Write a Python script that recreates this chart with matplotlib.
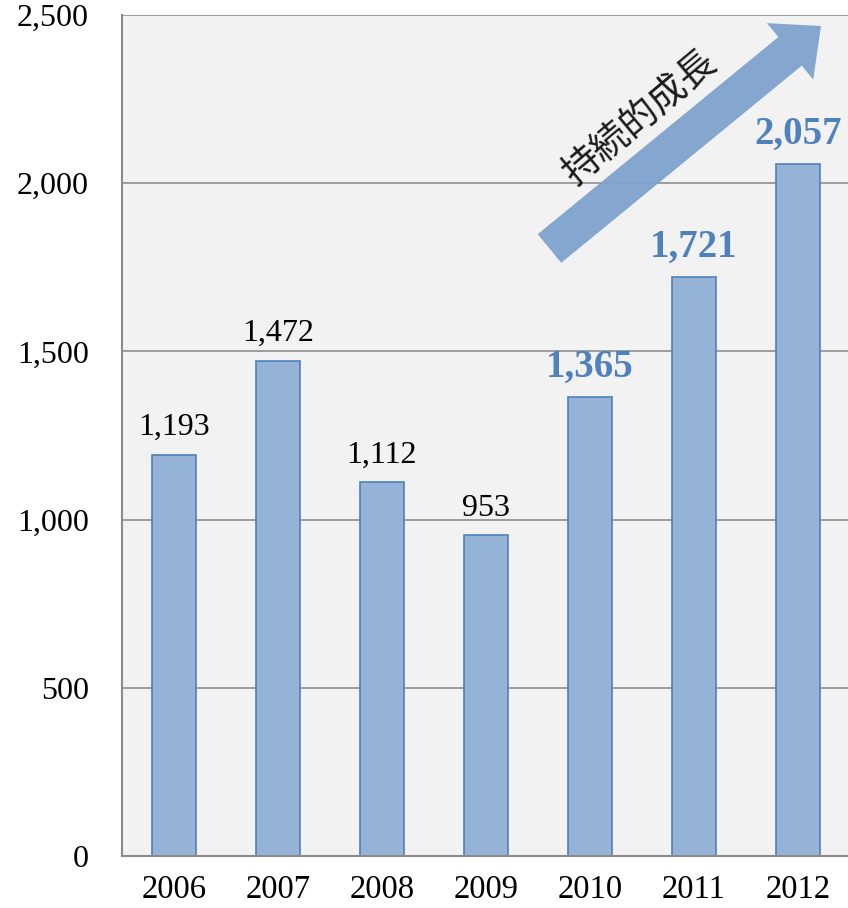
import matplotlib.pyplot as plt
from matplotlib.patches import FancyArrow
from matplotlib.transforms import IdentityTransform

years = ['2006', '2007', '2008', '2009', '2010', '2011', '2012']
values = [1193, 1472, 1112, 953, 1365, 1721, 2057]
highlight = [False, False, False, False, True, True, True]

plt.rcParams['font.family'] = ['Liberation Serif', 'DejaVu Serif']

fig = plt.figure(figsize=(8.48, 9.08), dpi=100)
ax = fig.add_axes([122 / 848, 52 / 908, 728 / 848, 841 / 908])
ax.set_facecolor('#f2f2f2')

x = range(len(years))
ax.bar(x, values, width=0.42, color='#95b3d7', edgecolor='#4f81bd', linewidth=1.2, zorder=2)

for i, v in enumerate(values):
    if highlight[i]:
        ax.annotate(f'{v:,}', (i, v), xytext=(0, 8), textcoords='offset points',
                    ha='center', va='bottom', fontsize=28, fontweight='bold', color='#4f81bd')
    else:
        ax.annotate(f'{v:,}', (i, v), xytext=(0, 9), textcoords='offset points',
                    ha='center', va='bottom', fontsize=23, color='black')

ax.set_xlim(-0.5, len(years) - 0.5)
ax.set_ylim(0, 2500)
ax.set_yticks([0, 500, 1000, 1500, 2000, 2500])
ax.set_yticklabels(['0', '500', '1,000', '1,500', '2,000', '2,500'])
ax.set_xticks(list(x))
ax.set_xticklabels(years)
ax.tick_params(axis='y', length=0, pad=24, labelsize=23)
ax.tick_params(axis='x', length=0, pad=13, labelsize=23.5)
ax.yaxis.grid(True, color='#8c8c8c', linewidth=1.2, zorder=0)
ax.set_axisbelow(True)
for s in ['top', 'right']:
    ax.spines[s].set_visible(False)
ax.spines['left'].set_color('#8c8c8c')
ax.spines['left'].set_linewidth(1.5)
ax.spines['bottom'].set_color('#8c8c8c')
ax.spines['bottom'].set_linewidth(1.5)

# growth arrow, in output pixels
H = 908
x0, y0 = 549.5, H - 248.5
x1, y1 = 821, H - 26
arrow = FancyArrow(x0, y0, x1 - x0, y1 - y0, width=37, head_width=73,
                   head_length=40, length_includes_head=True,
                   transform=IdentityTransform(), color='#7ea2ce', alpha=0.95,
                   linewidth=0, zorder=3)
fig.patches.append(arrow)
fig.text(641 / 848, (908 - 118) / 908, '持続的成長', rotation=40, ha='center', va='center',
         fontsize=27, family=['Noto Sans CJK JP'], color='#1a1a1a')

fig.savefig('out.png', dpi=100)
